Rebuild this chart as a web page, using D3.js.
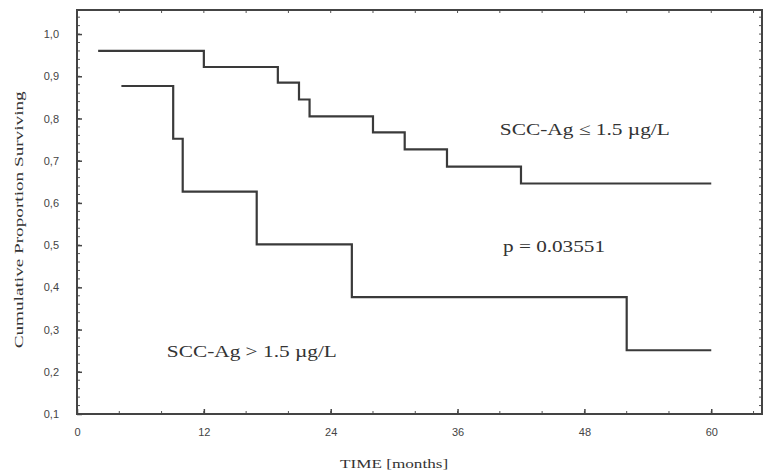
<!DOCTYPE html>
<html>
<head>
<meta charset="utf-8">
<script src="https://cdn.jsdelivr.net/npm/d3@7"></script>
<style>
  body { margin: 0; background: #fff; }
  .tick text { font-family: "Liberation Sans", Arial, sans-serif; font-size: 11px; fill: #444; }
  .lbl { font-family: "Liberation Serif", "Times New Roman", serif; fill: #333; }
</style>
</head>
<body>
<svg id="chart" width="771" height="475"></svg>
<script>
// Kaplan-Meier steps
const lowGroupTime = [2, 12, 19, 21, 22, 28, 31, 35, 42, 60];
const lowGroupSurv = [0.96, 0.922, 0.885, 0.845, 0.805, 0.767, 0.727, 0.686, 0.646, 0.646];
const highGroupTime = [4.2, 9.1, 10, 17, 26, 52, 60];
const highGroupSurv = [0.877, 0.752, 0.627, 0.502, 0.377, 0.251, 0.251];
const xTicks = [0, 12, 24, 36, 48, 60];
const yTicks = [0.1, 0.2, 0.3, 0.4, 0.5, 0.6, 0.7, 0.8, 0.9, 1.0];

const margin = { top: 10, right: 9, bottom: 61, left: 77 };
const width = 771 - margin.left - margin.right;
const height = 475 - margin.top - margin.bottom;

const svg = d3.select("#chart")
  .append("g")
  .attr("transform", `translate(${margin.left},${margin.top})`);

const x = d3.scaleLinear().domain([0, 64.8]).range([0, width]);
const y = d3.scaleLinear().domain([0.1, 1.057]).range([height, 0]);

const fmt = d => d3.format(".1f")(d).replace(".", ",");

// minor ticks, drawn inward on every side
const xMinor = d3.range(0, 65, 4);
const yMinor = d3.range(0.1, 1.057, 0.02);

const minor = svg.append("g").attr("stroke", "#555").attr("stroke-width", 1);
minor.selectAll(".mb").data(xMinor).enter().append("line")
  .attr("x1", d => x(d)).attr("x2", d => x(d)).attr("y1", height).attr("y2", height - 3);
minor.selectAll(".mt").data(xMinor).enter().append("line")
  .attr("x1", d => x(d)).attr("x2", d => x(d)).attr("y1", 0).attr("y2", 3);
minor.selectAll(".ml").data(yMinor).enter().append("line")
  .attr("y1", d => y(d)).attr("y2", d => y(d)).attr("x1", 0).attr("x2", 3);
minor.selectAll(".mr").data(yMinor).enter().append("line")
  .attr("y1", d => y(d)).attr("y2", d => y(d)).attr("x1", width).attr("x2", width - 3);

// axes
svg.append("g")
  .attr("transform", `translate(0,${height})`)
  .call(d3.axisBottom(x).tickValues(xTicks).tickSize(-5).tickPadding(14).tickFormat(d3.format("d")))
  .call(g => g.select(".domain").remove())
  .call(g => g.selectAll(".tick line").attr("stroke", "#444").attr("stroke-width", 1.5));

svg.append("g")
  .call(d3.axisLeft(y).tickValues(yTicks).tickSize(-5).tickPadding(18).tickFormat(fmt))
  .call(g => g.select(".domain").remove())
  .call(g => g.selectAll(".tick line").attr("stroke", "#444").attr("stroke-width", 1.5));

// frame
svg.append("rect")
  .attr("width", width).attr("height", height)
  .attr("fill", "none").attr("stroke", "#444").attr("stroke-width", 2);

// survival curves
const step = d3.line().x(d => x(d[0])).y(d => y(d[1])).curve(d3.curveStepAfter);
[[lowGroupTime, lowGroupSurv], [highGroupTime, highGroupSurv]].forEach(([t, s]) => {
  svg.append("path")
    .datum(t.map((v, i) => [v, s[i]]))
    .attr("fill", "none")
    .attr("stroke", "#3a3a3a")
    .attr("stroke-width", 2.2)
    .attr("d", step);
});

// annotations (the scanned text is horizontally stretched, hence textLength)
function note(tx, ty, str, len) {
  svg.append("text").attr("class", "lbl")
    .attr("x", x(tx)).attr("y", y(ty)).attr("font-size", 17)
    .attr("textLength", len).attr("lengthAdjust", "spacingAndGlyphs")
    .text(str);
}
note(40, 0.761, "SCC-Ag \u2264 1.5 \u00b5g/L", 170);
note(40.3, 0.484, "p = 0.03551", 102);
note(8.5, 0.234, "SCC-Ag > 1.5 \u00b5g/L", 170);

// axis titles
svg.append("text").attr("class", "lbl")
  .attr("x", x(30)).attr("y", height + 54)
  .attr("text-anchor", "middle").attr("font-size", 13)
  .attr("textLength", 108).attr("lengthAdjust", "spacingAndGlyphs")
  .text("TIME [months]");
svg.append("text").attr("class", "lbl")
  .attr("transform", `translate(${23 - margin.left},${y(0.56)}) rotate(-90)`)
  .attr("text-anchor", "middle").attr("font-size", 13)
  .attr("textLength", 257).attr("lengthAdjust", "spacingAndGlyphs")
  .text("Cumulative Proportion Surviving");
</script>
</body>
</html>
